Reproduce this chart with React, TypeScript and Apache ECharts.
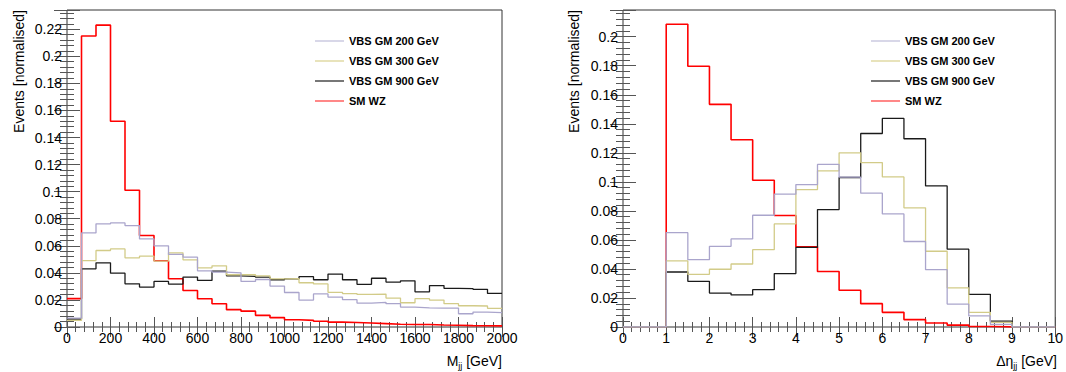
import React, { useEffect, useRef } from "react";
import * as echarts from "echarts";

// ---------------- data ----------------
const seriesNames = ["SM WZ", "VBS GM 900 GeV", "VBS GM 300 GeV", "VBS GM 200 GeV"];
const legendNames = ["VBS GM 200 GeV", "VBS GM 300 GeV", "VBS GM 900 GeV", "SM WZ"];
const legendColors = ["#cfcde2", "#e2dcaa", "#555555", "#ff6a6a"];
const seriesColors = ["#ff0000", "#1a1a1a", "#d2cb88", "#aaa5cc"];
const seriesWidths = [1.6, 1.3, 1.3, 1.3];

// Mjj: 30 bins from 0 to 2000 GeV
const mjjLow = 0;
const mjjHigh = 2000;
const mjjBinCount = 30;
const mjjSMWZ = [0.021, 0.215, 0.223, 0.152, 0.101, 0.0676, 0.049, 0.0356, 0.027, 0.0209, 0.0172, 0.0128, 0.0117, 0.0086, 0.0069, 0.0054, 0.0049, 0.0042, 0.0036, 0.0033, 0.003, 0.0025, 0.002, 0.0018, 0.0018, 0.0015, 0.0013, 0.001, 0.0009, 0.0008];
const mjjGM200 = [0.0066, 0.0695, 0.0762, 0.0769, 0.0749, 0.0651, 0.06, 0.0536, 0.0516, 0.0415, 0.0405, 0.04, 0.0337, 0.0351, 0.0302, 0.0255, 0.0199, 0.0244, 0.0221, 0.0202, 0.0177, 0.0182, 0.0172, 0.0147, 0.0142, 0.014, 0.014, 0.0098, 0.011, 0.0106];
const mjjGM300 = [0.0049, 0.0491, 0.0565, 0.0577, 0.0511, 0.0523, 0.0486, 0.0548, 0.0496, 0.0437, 0.0452, 0.0386, 0.0386, 0.0377, 0.0356, 0.0357, 0.0327, 0.0318, 0.0256, 0.0247, 0.0241, 0.0243, 0.0214, 0.0179, 0.0209, 0.0199, 0.0172, 0.0157, 0.0155, 0.0138];
const mjjGM900 = [0.0059, 0.043, 0.0474, 0.0398, 0.0319, 0.0295, 0.0337, 0.0317, 0.0369, 0.0344, 0.0413, 0.0378, 0.0374, 0.0368, 0.0349, 0.0356, 0.0372, 0.0349, 0.0391, 0.0349, 0.0315, 0.036, 0.0332, 0.0341, 0.026, 0.0306, 0.0286, 0.0284, 0.0278, 0.0248];

// Delta eta: 20 bins from 0 to 10
const detaLow = 0;
const detaHigh = 10;
const detaBinCount = 20;
const detaSMWZ = [0, 0, 0.2086, 0.1796, 0.1534, 0.129, 0.1011, 0.0768, 0.0553, 0.0382, 0.0253, 0.0161, 0.0101, 0.0051, 0.0028, 0.0013, 0.0003, 0.0001, 0, 0];
const detaGM200 = [0, 0, 0.065, 0.0464, 0.0556, 0.0607, 0.077, 0.0915, 0.0981, 0.112, 0.1032, 0.0922, 0.0779, 0.0589, 0.0395, 0.0158, 0.0076, 0.0018, 0, 0];
const detaGM300 = [0, 0, 0.0455, 0.0363, 0.0398, 0.0434, 0.0533, 0.071, 0.0947, 0.1076, 0.12, 0.1133, 0.1034, 0.0821, 0.0522, 0.027, 0.0101, 0.0032, 0, 0];
const detaGM900 = [0, 0, 0.0379, 0.0315, 0.0234, 0.0221, 0.0257, 0.0368, 0.0549, 0.0809, 0.103, 0.1333, 0.1437, 0.1297, 0.0972, 0.0536, 0.0225, 0.0041, 0, 0];

const mjjMaxY = 0.2342;
const detaMaxY = 0.2184;
const yTickStep = 0.02;
const mjjTickStep = 200;
const detaTickStep = 1;

// ---------------- helpers ----------------
const FONT = "'Liberation Sans', Arial, Helvetica, sans-serif";
const TICK = "#555";

function histPoints(low: number, high: number, n: number, values: number[]) {
  const w = (high - low) / n;
  const pts: number[][] = values.map((v, i) => [low + i * w, v]);
  pts.push([high, values[values.length - 1]]);
  return pts;
}

const fmt = (v: number) => String(Number(v.toFixed(4)));

function xAxes(gridIndex: number, min: number, max: number, interval: number) {
  const base = {
    type: "value",
    gridIndex,
    min,
    max,
    interval,
    axisLine: { show: false },
    splitLine: { show: false },
    axisTick: { show: true, inside: true, length: 10, lineStyle: { color: TICK, width: 1 } },
    minorTick: { show: true, splitNumber: 5, length: 5, lineStyle: { color: TICK, width: 1 } },
  };
  return [
    {
      ...base,
      position: "bottom",
      axisLabel: { show: true, fontSize: 14, fontFamily: FONT, color: "#000", margin: 4, formatter: fmt },
    },
    { ...base, position: "top", axisLabel: { show: false } },
  ];
}

function yAxes(gridIndex: number, max: number) {
  const base = {
    type: "value",
    gridIndex,
    min: 0,
    max,
    interval: yTickStep,
    axisLine: { show: false },
    splitLine: { show: false },
    axisTick: { show: true, inside: true, length: 13, lineStyle: { color: TICK, width: 1 } },
    minorTick: { show: true, splitNumber: 5, length: 7, lineStyle: { color: TICK, width: 1 } },
  };
  return [
    {
      ...base,
      position: "left",
      axisLabel: {
        show: true,
        fontSize: 14,
        fontFamily: FONT,
        color: "#000",
        margin: 5,
        showMaxLabel: false,
        formatter: fmt,
      },
    },
    { ...base, position: "right", axisLabel: { show: false } },
  ];
}

function panelSeries(panel: number, data: number[][][]) {
  return data.map((pts, i) => ({
    type: "line",
    name: seriesNames[i],
    xAxisIndex: panel * 2,
    yAxisIndex: panel * 2,
    step: "end",
    symbol: "none",
    showSymbol: false,
    silent: true,
    data: pts,
    lineStyle: { color: seriesColors[i], width: seriesWidths[i] },
    itemStyle: { color: seriesColors[i] },
  }));
}

function legendAt(left: number) {
  return {
    show: true,
    orient: "vertical",
    left,
    top: 35,
    padding: 0,
    icon: "rect",
    itemWidth: 29,
    itemHeight: 1.6,
    itemGap: 8,
    selectedMode: false,
    data: legendNames.map((name, i) => ({ name, itemStyle: { color: legendColors[i] } })),
    textStyle: { fontFamily: FONT, fontSize: 11, fontWeight: "bold", color: "#000", lineHeight: 12 },
  };
}

const subRich = {
  m: { fontFamily: FONT, fontSize: 14, fill: "#000", color: "#000", lineHeight: 16, verticalAlign: "top" },
  s: { fontFamily: FONT, fontSize: 9, fill: "#000", color: "#000", lineHeight: 16, padding: [7, 0, 0, 0], verticalAlign: "top" },
};

export default function App() {
  const ref = useRef<HTMLDivElement>(null);

  useEffect(() => {
    if (!ref.current) return;
    const chart = echarts.init(ref.current, undefined, { renderer: "svg" });

    const mjjData = [mjjSMWZ, mjjGM900, mjjGM300, mjjGM200].map((v) => histPoints(mjjLow, mjjHigh, mjjBinCount, v));
    const detaData = [detaSMWZ, detaGM900, detaGM300, detaGM200].map((v) => histPoints(detaLow, detaHigh, detaBinCount, v));

    const option: any = {
      animation: false,
      backgroundColor: "#fff",
      textStyle: { fontFamily: FONT },
      grid: [
        { left: 67, top: 10, width: 435, height: 317, show: true, borderColor: "#333", borderWidth: 1, backgroundColor: "transparent" },
        { left: 623, top: 10, width: 434, height: 317, show: true, borderColor: "#333", borderWidth: 1, backgroundColor: "transparent" },
      ],
      xAxis: [...xAxes(0, mjjLow, mjjHigh, mjjTickStep), ...xAxes(1, detaLow, detaHigh, detaTickStep)],
      yAxis: [...yAxes(0, mjjMaxY), ...yAxes(1, detaMaxY)],
      legend: [legendAt(315), legendAt(871)],
      series: [...panelSeries(0, mjjData), ...panelSeries(1, detaData)],
      graphic: [
        {
          type: "text",
          x: 19,
          y: 10,
          rotation: Math.PI / 2,
          style: { text: "Events [normalised]", fontFamily: FONT, fontSize: 14, fill: "#000", align: "right", verticalAlign: "middle" },
        },
        {
          type: "text",
          x: 574,
          y: 10,
          rotation: Math.PI / 2,
          style: { text: "Events [normalised]", fontFamily: FONT, fontSize: 14, fill: "#000", align: "right", verticalAlign: "middle" },
        },
        {
          type: "text",
          x: 502,
          y: 354,
          style: { text: "{m|M}{s|jj}{m| [GeV]}", rich: subRich, align: "right", verticalAlign: "top" },
        },
        {
          type: "text",
          x: 1057,
          y: 354,
          style: { text: "{m|Δη}{s|jj}{m| [GeV]}", rich: subRich, align: "right", verticalAlign: "top" },
        },
      ],
    };
    chart.setOption(option);
    return () => chart.dispose();
  }, []);

  return (
    <div
      ref={ref}
      style={{ position: "fixed", left: 0, top: 0, width: 1066, height: 372, background: "#fff" }}
    />
  );
}
